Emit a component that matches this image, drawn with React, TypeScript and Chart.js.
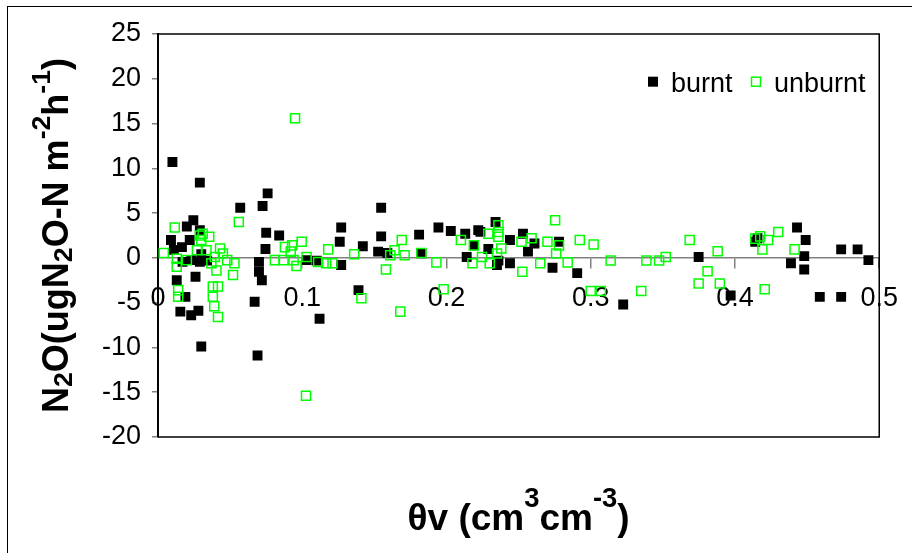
import React, { useEffect, useRef } from "react";
import { Chart, registerables } from "chart.js";

Chart.register(...registerables);

// ---- data ----
const seriesNames = ["burnt", "unburnt"];

const burntX = [
  0.010, 0.029, 0.076, 0.057, 0.0725, 0.127, 0.075, 0.084, 0.126, 0.0745,
  0.0245, 0.020, 0.029, 0.009, 0.011, 0.022, 0.017, 0.023, 0.029, 0.026,
  0.013, 0.019, 0.067, 0.070, 0.070, 0.072, 0.0155, 0.023, 0.028, 0.112,
  0.030, 0.069, 0.103, 0.1547, 0.142, 0.1547, 0.1526, 0.159, 0.181, 0.1826,
  0.1944, 0.203, 0.213, 0.222, 0.127, 0.139, 0.214, 0.234, 0.244, 0.244,
  0.235, 0.2235, 0.219, 0.253, 0.2565, 0.261, 0.2735, 0.278, 0.2906, 0.3225,
  0.3748, 0.397, 0.4156, 0.414, 0.4388, 0.443, 0.449, 0.448, 0.448, 0.4588,
  0.4736, 0.4736, 0.485, 0.4925, 0.0166, 0.030, 0.034, 0.236, 0.229, 0.110,
];
const burntY = [
  10.7, 8.4, 7.2, 5.6, 5.8, 3.4, 2.8, 2.5, 1.8, 1.0,
  4.2, 3.5, 3.1, 2.0, 0.9, 2.0, -0.45, -0.25, -0.45, -2.1,
  -2.5, -4.35, -4.9, -0.45, -1.55, -2.5, -6.0, -6.4, -5.9, -6.8,
  -9.9, -10.9, -0.25, 5.6, 1.3, 2.4, 0.7, 0.55, 2.6, 0.5,
  3.4, 3.0, 2.7, 3.1, -0.8, -3.6, 0.1, 4.0, 2.0, -0.6,
  -0.8, 2.9, 1.4, 2.7, 0.7, 1.6, -1.1, 1.8, -1.7, -5.2,
  0.1, -4.2, 2.2, 1.8, -0.6, 3.4, 2.0, 0.2, -1.3, -4.35,
  -4.35, 0.95, 0.95, -0.25, 1.2, 0.4, -0.3, -0.3, 1.0, -0.3,
];

const unburntX = [
  0.095, 0.039, 0.0416, 0.1026, 0.0116, 0.004, 0.013, 0.013, 0.020, 0.029,
  0.031, 0.0355, 0.030, 0.027, 0.0336, 0.043, 0.0394, 0.045, 0.048, 0.037,
  0.0405, 0.053, 0.052, 0.014, 0.014, 0.038, 0.0416, 0.038, 0.056, 0.088,
  0.093, 0.0996, 0.092, 0.081, 0.087, 0.094, 0.096, 0.103, 0.111, 0.118,
  0.1166, 0.121, 0.136, 0.169, 0.164, 0.161, 0.171, 0.1826, 0.158, 0.193,
  0.141, 0.198, 0.168, 0.210, 0.218, 0.219, 0.230, 0.2246, 0.236, 0.236,
  0.236, 0.229, 0.238, 0.235, 0.252, 0.2526, 0.259, 0.270, 0.265, 0.2753,
  0.276, 0.278, 0.2924, 0.302, 0.284, 0.3138, 0.300, 0.307, 0.335, 0.3386,
  0.3474, 0.352, 0.3686, 0.388, 0.381, 0.3748, 0.3895, 0.414, 0.4175, 0.423,
  0.430, 0.419, 0.4413, 0.4206,
];
const unburntY = [
  15.6, -5.4, -6.6, -15.4, 3.4, 0.55, -0.1, -1.0, -0.25, 2.5,
  2.7, 2.35, 2.0, 0.85, 0.85, 1.05, 0.1, 0.5, -0.25, -0.6,
  -1.4, -0.6, -1.9, -3.6, -4.35, -3.2, -3.2, -4.35, 4.0, 1.2,
  1.4, 1.8, 0.7, -0.25, -0.25, -0.25, -0.9, 0.1, -0.45, 0.95,
  -0.6, -0.6, 0.4, 2.0, 0.85, 0.3, 0.3, 0.55, -1.3, -0.5,
  -4.5, -3.5, -6.0, 2.0, -0.6, 1.4, -0.6, 0.1, 3.65, 2.9,
  2.35, 2.7, 1.05, 0.5, 1.8, -1.55, 2.2, 1.8, -0.6, 4.2,
  0.5, 1.4, 2.0, 1.5, -0.5, -0.3, -3.7, -3.7, -3.7, -0.3,
  -0.3, 0.1, 2.0, 0.75, -1.5, -2.85, -2.85, 2.15, 2.4, 2.0,
  2.9, 0.95, 0.95, -3.5,
];

const xMin = 0;
const xMax = 0.5;
const xStep = 0.1;
const yMin = -20;
const yMax = 25;
const yStep = 5;

// title segments: [text, kind]  kind: n = normal, sub, sup
const yTitleSegs: [string, string][] = [
  ["N", "n"], ["2", "sub"], ["O(ugN", "n"], ["2", "sub"], ["O-N m", "n"],
  ["-2", "sup"], ["h", "n"], ["-1", "sup"], [")", "n"],
];
const xTitleSegs: [string, string][] = [
  ["θv (cm", "n"], ["3", "sup"], ["cm", "n"], ["-3", "sup"], [")", "n"],
];

const FONT = "'Liberation Sans', Arial, sans-serif";

function drawRich(
  ctx: CanvasRenderingContext2D,
  segs: [string, string][],
  size: number,
  supOff: number,
) {
  let total = 0;
  const items = segs.map(([t, k]) => {
    const s = k === "n" ? size : size * 0.74;
    ctx.font = `bold ${s}px ${FONT}`;
    const w = ctx.measureText(t).width;
    total += w;
    return { t, k, s, w };
  });
  let x = -total / 2;
  ctx.textAlign = "left";
  ctx.textBaseline = "alphabetic";
  for (const it of items) {
    ctx.font = `bold ${it.s}px ${FONT}`;
    const dy = it.k === "sup" ? -size * supOff : it.k === "sub" ? size * 0.12 : 0;
    ctx.fillText(it.t, x, dy);
    x += it.w;
  }
}

const decorPlugin = {
  id: "decor",
  afterDraw(chart: any) {
    const ctx: CanvasRenderingContext2D = chart.ctx;
    const a = chart.chartArea;
    ctx.save();
    // outer frame
    ctx.strokeStyle = "#000";
    ctx.lineWidth = 1;
    ctx.strokeRect(7.5, 6.5, 2000, 2000);
    // plot frame (top, right, bottom)
    ctx.strokeStyle = "#000";
    ctx.lineWidth = 1.5;
    ctx.beginPath();
    ctx.moveTo(a.left, a.top);
    ctx.lineTo(a.right, a.top);
    ctx.lineTo(a.right, a.bottom);
    ctx.lineTo(a.left, a.bottom);
    ctx.stroke();
    // titles
    ctx.fillStyle = "#000";
    ctx.save();
    ctx.translate(68, (a.top + a.bottom) / 2);
    ctx.rotate(-Math.PI / 2);
    drawRich(ctx, yTitleSegs, 36, 0.5);
    ctx.restore();
    ctx.save();
    ctx.translate((a.left + a.right) / 2, 530);
    drawRich(ctx, xTitleSegs, 37, 0.62);
    ctx.restore();
    // legend
    ctx.font = `27px ${FONT}`;
    ctx.textAlign = "left";
    ctx.textBaseline = "alphabetic";
    const ly = 81.7;
    ctx.fillStyle = "#000";
    ctx.fillRect(648, ly - 5, 10, 10);
    ctx.fillText(seriesNames[0], 671, 91.5);
    ctx.strokeStyle = "#00ff00";
    ctx.lineWidth = 1.5;
    ctx.strokeRect(751.5, ly - 4.5, 9, 9);
    ctx.fillStyle = "#000";
    ctx.fillText(seriesNames[1], 774, 91.5);
    ctx.restore();
  },
};

export default function App() {
  const ref = useRef<HTMLCanvasElement | null>(null);
  useEffect(() => {
    document.body.style.margin = "0";
    const canvas = ref.current!;
    const chart = new Chart(canvas, {
      type: "scatter",
      data: {
        datasets: [
          {
            label: seriesNames[0],
            data: burntX.map((x, i) => ({ x, y: burntY[i] })),
            pointStyle: "rect",
            pointRadius: 7,
            backgroundColor: "#000",
            borderColor: "#000",
            pointBorderWidth: 0,
            order: 1,
          },
          {
            label: seriesNames[1],
            data: unburntX.map((x, i) => ({ x, y: unburntY[i] })),
            pointStyle: "rect",
            pointRadius: 6.4,
            backgroundColor: "rgba(0,0,0,0)",
            borderColor: "#00ff00",
            pointBorderWidth: 1.5,
            order: 0,
          },
        ],
      },
      options: {
        responsive: false,
        animation: false,
        devicePixelRatio: 1,
        layout: { padding: { left: 0, top: 34, right: 20, bottom: 116 } },
        plugins: {
          legend: { display: false },
          tooltip: { enabled: false },
          title: { display: false },
        },
        scales: {
          x: {
            type: "linear",
            position: { y: 0 } as any,
            min: xMin,
            max: xMax,
            ticks: {
              stepSize: xStep,
              color: "#000",
              font: { family: FONT, size: 27 },
              padding: 14,
              maxRotation: 0,
            },
            grid: {
              drawOnChartArea: false,
              drawTicks: true,
              tickLength: 10,
              color: "#808080",
              lineWidth: 1.5,
            },
            border: { color: "#808080", width: 1.5 },
          },
          y: {
            type: "linear",
            position: "left",
            min: yMin,
            max: yMax,
            ticks: {
              stepSize: yStep,
              color: "#000",
              font: { family: FONT, size: 27 },
              padding: 11,
            },
            grid: {
              drawOnChartArea: false,
              drawTicks: true,
              tickLength: 6,
              color: "#808080",
              lineWidth: 1.5,
            },
            border: { color: "#000", width: 2 },
            afterFit: (s: any) => {
              s.width = 158;
            },
          },
        },
      },
      plugins: [decorPlugin],
    });
    return () => chart.destroy();
  }, []);
  return (
    <div style={{ width: 912, height: 553 }}>
      <canvas ref={ref} width={912} height={553} style={{ display: "block" }} />
    </div>
  );
}
